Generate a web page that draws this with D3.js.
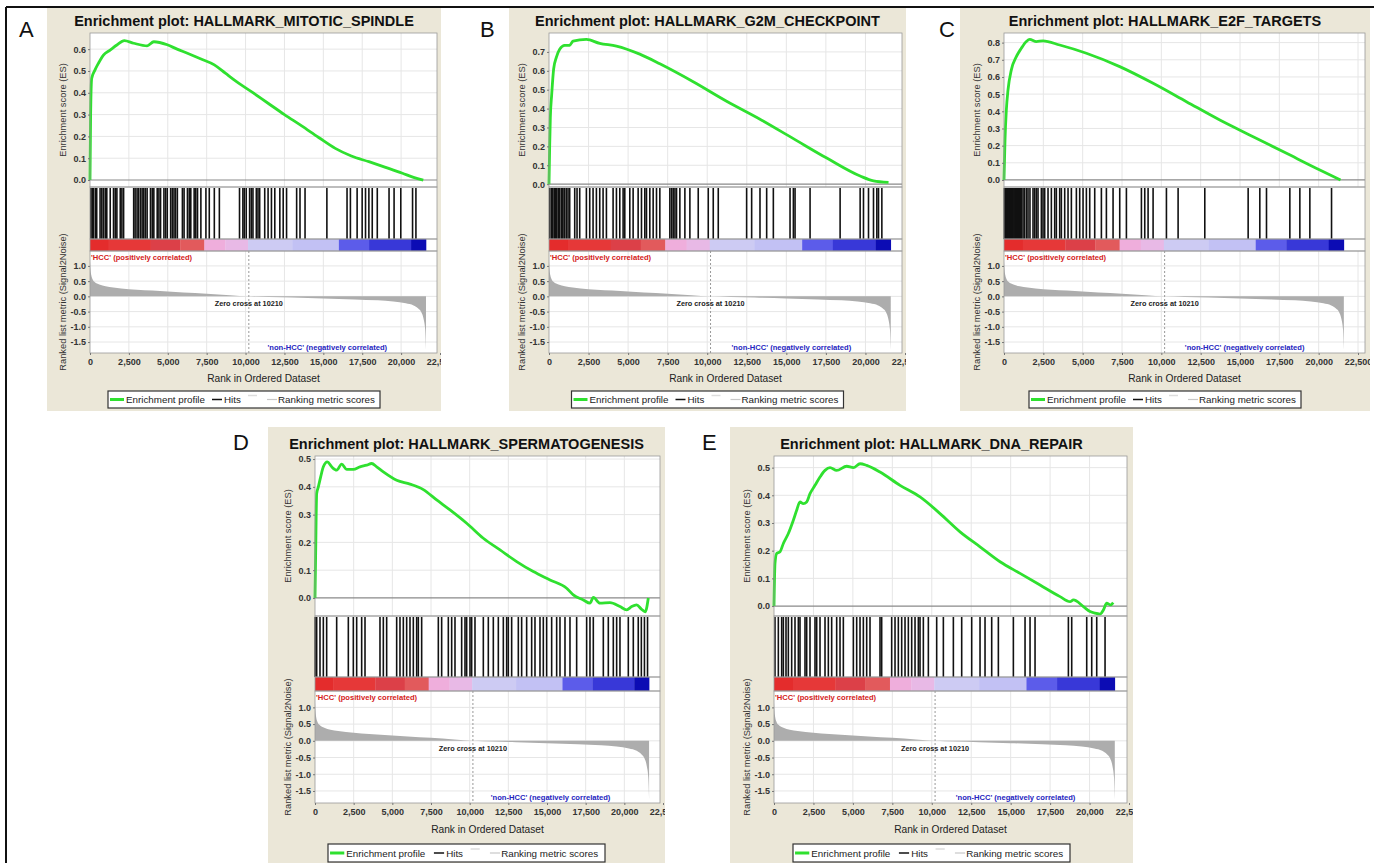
<!DOCTYPE html>
<html lang="en">
<head>
<meta charset="UTF-8">
<title>GSEA enrichment plots</title>
<script src="https://d3js.org/d3.v7.min.js"></script>
<style>
  body { margin: 0; background: #fff; }
  svg { display: block; font-family: "Liberation Sans", Arial, sans-serif; }
</style>
</head>
<body>
<div id="chart"></div>
<script>
// ---- data ----
var panelIds = ["A", "B", "C", "D", "E"];
var titles = [
  "Enrichment plot: HALLMARK_MITOTIC_SPINDLE",
  "Enrichment plot: HALLMARK_G2M_CHECKPOINT",
  "Enrichment plot: HALLMARK_E2F_TARGETS",
  "Enrichment plot: HALLMARK_SPERMATOGENESIS",
  "Enrichment plot: HALLMARK_DNA_REPAIR"
];
var rankTicks = d3.range(0, 22501, 2500);
var rankedTicks = [1.0, 0.5, 0.0, -0.5, -1.0, -1.5];
var esTicksA = [0, 0.1, 0.2, 0.3, 0.4, 0.5, 0.6];
var esTicksB = [0, 0.1, 0.2, 0.3, 0.4, 0.5, 0.6, 0.7];
var esTicksC = [0, 0.1, 0.2, 0.3, 0.4, 0.5, 0.6, 0.7, 0.8];
var esTicksD = [0, 0.1, 0.2, 0.3, 0.4, 0.5];
var esTicksE = [0, 0.1, 0.2, 0.3, 0.4, 0.5];
var zeroCross = 10210;
var lastRank = 21600;

// running enrichment score: [rank, ES]
var esA = [[0,0],[40,0.30],[108,0.466],[324,0.505],[540,0.535],[864,0.573],[1296,0.596],[1728,0.619],[2203,0.639],[2808,0.627],[3672,0.615],[4104,0.634],[4968,0.62],[5600,0.60],[6264,0.581],[7100,0.556],[7992,0.528],[8700,0.49],[9288,0.458],[10400,0.404],[11448,0.352],[12500,0.30],[13608,0.248],[14700,0.195],[15768,0.145],[16800,0.11],[17928,0.084],[19000,0.058],[20088,0.031],[20800,0.012],[21427,0]];
var esB = [[0,0],[42,0.198],[84,0.353],[169,0.473],[295,0.611],[464,0.671],[675,0.714],[992,0.735],[1308,0.735],[1519,0.757],[2363,0.766],[3207,0.745],[4262,0.731],[5739,0.688],[7005,0.637],[9115,0.542],[11225,0.439],[13335,0.344],[15445,0.241],[17555,0.138],[19665,0.043],[20509,0.017],[21459,0.009]];
var esC = [[0,0],[64,0.233],[149,0.408],[254,0.524],[467,0.641],[784,0.718],[1102,0.767],[1420,0.806],[1632,0.819],[2056,0.806],[2480,0.81],[3540,0.786],[5236,0.738],[7356,0.66],[9476,0.563],[11596,0.456],[13716,0.349],[15836,0.252],[17956,0.155],[20076,0.058],[21390,0]];
var esD = [[0,0],[43,0.161],[108,0.376],[216,0.40],[367,0.436],[539,0.472],[797,0.49],[1078,0.472],[1401,0.46],[1724,0.482],[2047,0.463],[2478,0.463],[2909,0.472],[3340,0.478],[3664,0.484],[3987,0.472],[4418,0.454],[5280,0.424],[6142,0.41],[7004,0.39],[7866,0.353],[8728,0.317],[9805,0.269],[10883,0.215],[11960,0.173],[13038,0.131],[14115,0.095],[15193,0.065],[16270,0.035],[16701,0.011],[17348,-0.007],[17779,-0.019],[17994,0.002],[18425,-0.019],[19071,-0.017],[19718,-0.031],[20149,-0.043],[20472,-0.031],[20795,-0.025],[21100,-0.04],[21350,-0.05],[21550,0.0]];
var esE = [[0,0],[63,0.154],[169,0.19],[380,0.196],[592,0.226],[909,0.262],[1226,0.31],[1437,0.346],[1648,0.376],[1859,0.37],[2071,0.376],[2282,0.406],[2599,0.436],[2916,0.466],[3233,0.49],[3550,0.5],[3972,0.49],[4606,0.505],[5029,0.5],[5452,0.514],[5874,0.508],[6719,0.484],[7987,0.436],[9255,0.394],[10523,0.334],[11791,0.268],[13058,0.214],[14326,0.16],[15594,0.118],[16862,0.076],[18130,0.034],[18764,0.016],[18975,0.022],[19609,-0.002],[20031,-0.02],[20348,-0.026],[20665,-0.029],[20876,-0.014],[21087,0.01],[21341,0.004],[21500,0.012]];

// gene set members (rank positions)
var hitsA = [60,150,216,340,432,648,760,864,980,1080,1300,1512,1620,1728,1944,2050,2160,2808,2900,3024,3120,3240,3350,3456,3560,3672,3888,4000,4104,4320,4430,4536,4752,4860,4968,5184,5290,5400,5500,5616,5940,6048,6264,6380,6480,6696,6800,6912,7128,7452,7668,7992,8316,9612,9828,9920,10044,10260,10370,10476,10692,10800,10908,11232,11448,11664,11880,12204,12420,12636,13284,13500,13824,15228,16524,16740,17172,17496,17712,17928,18144,18468,19224,19548,19980,20736,20952];
var hitsB = [42,148,200,253,359,410,464,570,620,675,781,830,886,992,1097,1203,1308,1625,1772,1941,2363,2574,2785,2996,3207,3418,3629,4051,4262,4473,4684,4790,5106,5317,5634,5845,6056,6161,6372,6583,6794,7005,7638,7750,7849,7960,8060,8271,8588,8904,9432,10065,10381,10698,12491,12808,13335,13757,14179,15234,15445,15551,16500,18399,19665,19876,20193,20509,20720,20826,21037];
var hitsC = [20,70,106,160,212,265,318,370,424,480,530,580,636,690,742,800,848,930,996,1050,1102,1208,1300,1420,1526,1650,1844,1950,2056,2162,2374,2480,2586,2798,3010,3222,3328,3540,3646,3858,4070,4282,4600,4812,5024,5236,5448,5766,6190,6508,6932,7356,7780,8734,8946,9158,9476,10324,11066,12762,15518,16260,16684,18168,18804,19440,20818];
var hitsD = [10,108,323,539,754,1401,2155,2478,2694,3017,3233,4202,4418,4633,5280,5495,5711,5926,6142,6357,6573,6681,6896,7974,8189,8620,8836,9051,9482,9698,9805,10021,10129,10344,10883,11206,11529,11853,12176,12391,12499,12715,13146,13361,13684,14008,14223,14546,14762,14977,15301,15624,15839,16163,16486,16917,17563,17779,17994,18641,18964,19287,19503,19718,20257,20580,20900,21100,21300,21500];
var hitsE = [63,275,486,592,761,909,1120,1331,1543,1648,1965,2071,2282,2599,2705,2916,3233,3444,3655,3972,4184,4395,5029,5240,5452,5663,5874,6085,6719,6825,7459,7670,7881,8093,8304,8515,8727,8938,9149,9255,9466,9783,10311,10734,11368,11896,12530,13058,13375,13798,14220,15171,15911,16228,16545,18658,18869,19820,20137,20454,20982];

// ranked list metric (Signal2Noise), same dataset in every panel
var rankedMetric = [[0,1.15],[30,0.9],[80,0.7],[150,0.58],[300,0.47],[600,0.39],[1000,0.33],[1500,0.29],[2000,0.26],[3000,0.22],[4000,0.19],[5000,0.16],[6000,0.13],[7500,0.09],[9000,0.04],[10210,0],[11500,-0.02],[13000,-0.04],[15000,-0.07],[17000,-0.1],[18500,-0.13],[19500,-0.17],[20300,-0.23],[20800,-0.3],[21100,-0.4],[21300,-0.52],[21450,-0.75],[21550,-1.1],[21600,-1.75]];

// heat-map bar under the hits: [start rank, colour]
var barStarts = [0, 1200, 3900, 5800, 7350, 8700, 10160, 13000, 16000, 17940, 20640];
var barColors = ["#e42c2c", "#e63838", "#dc4048", "#e25a5c", "#efaedc", "#e8b9e6", "#cdcbf3", "#c2c1f4", "#5c5cea", "#3838d8", "#0c0cb4"];

var esData = [esA, esB, esC, esD, esE];
var hitsData = [hitsA, hitsB, hitsC, hitsD, hitsE];
var esTicks = [esTicksA, esTicksB, esTicksC, esTicksD, esTicksE];
var esDomains = [[-0.032, 0.674], [-0.015, 0.80], [-0.041, 0.856], [-0.065, 0.511], [-0.036, 0.542]];
var rankedDomain = [-1.86, 1.49];

// ---- layout ----
var rows = [
  { top: 8, bot: 411, titleY: 26, esTop: 33, esBot: 187, hitsBot: 239, barBot: 251, rankBot: 353, xTitleY: 382, legTop: 391, legH: 17, legW: 272 },
  { top: 427, bot: 870, titleY: 449, esTop: 456, esBot: 616, hitsBot: 677, barBot: 691, rankBot: 803, xTitleY: 833, legTop: 844, legH: 18, legW: 277 }
];
var boxes = [
  { row: 0, bx0: 47,  bx1: 441,  x0: 90,   w: 350, pw: 347, lx: 19,  ly: 37 },
  { row: 0, bx0: 509, bx1: 906,  x0: 549,  w: 356, pw: 353, lx: 480, ly: 37 },
  { row: 0, bx0: 960, bx1: 1370, x0: 1004, w: 354, pw: 361, lx: 939, ly: 37 },
  { row: 1, bx0: 268, bx1: 665,  x0: 315,  w: 348, pw: 345, lx: 233, ly: 450 },
  { row: 1, bx0: 730, bx1: 1133, x0: 774,  w: 355, pw: 353, lx: 702, ly: 450 }
];

var width = 1374, height = 863;
var svg = d3.select("#chart").append("svg")
  .attr("width", width)
  .attr("height", height);

svg.append("rect").attr("width", width).attr("height", height).attr("fill", "#fff");

var fmt1 = function(d) { return d.toFixed(1); };

boxes.forEach(function(b, i) {
  var r = rows[b.row];
  var x = d3.scaleLinear().domain([0, 22500]).range([b.x0, b.x0 + b.w]);
  var xr = b.x0 + b.pw;
  var yEs = d3.scaleLinear().domain(esDomains[i]).range([r.esBot, r.esTop]);
  var yRk = d3.scaleLinear().domain(rankedDomain).range([r.rankBot, r.barBot]);

  svg.append("clipPath").attr("id", "clip" + i)
    .append("rect")
    .attr("x", b.bx0).attr("y", r.top)
    .attr("width", b.bx1 - b.bx0).attr("height", r.bot - r.top);

  var g = svg.append("g").attr("clip-path", "url(#clip" + i + ")");

  // beige panel
  g.append("rect")
    .attr("x", b.bx0).attr("y", r.top)
    .attr("width", b.bx1 - b.bx0).attr("height", r.bot - r.top)
    .attr("fill", "#ebe7d8");

  // title
  g.append("text")
    .attr("x", (b.bx0 + b.bx1) / 2).attr("y", r.titleY)
    .attr("text-anchor", "middle")
    .attr("font-size", 14.5).attr("font-weight", "bold").attr("fill", "#111")
    .text(titles[i]);

  // white plot areas
  [[r.esTop, r.esBot], [r.esBot, r.hitsBot], [r.hitsBot, r.barBot], [r.barBot, r.rankBot]].forEach(function(s) {
    g.append("rect")
      .attr("x", b.x0).attr("y", s[0])
      .attr("width", xr - b.x0).attr("height", s[1] - s[0])
      .attr("fill", "#fff");
  });

  // grid lines
  var grid = g.append("g").attr("stroke", "#e6e6e6").attr("stroke-width", 1);
  rankTicks.forEach(function(t) {
    if (t === 0 || x(t) >= xr) return;
    grid.append("line").attr("x1", x(t)).attr("x2", x(t)).attr("y1", r.esTop).attr("y2", r.esBot);
    grid.append("line").attr("x1", x(t)).attr("x2", x(t)).attr("y1", r.barBot).attr("y2", r.rankBot);
  });
  esTicks[i].forEach(function(t) {
    if (t === 0) return;
    grid.append("line").attr("x1", b.x0).attr("x2", xr).attr("y1", yEs(t)).attr("y2", yEs(t));
  });
  rankedTicks.forEach(function(t) {
    grid.append("line").attr("x1", b.x0).attr("x2", xr).attr("y1", yRk(t)).attr("y2", yRk(t));
  });

  // ES zero line
  g.append("line")
    .attr("x1", b.x0).attr("x2", xr)
    .attr("y1", yEs(0)).attr("y2", yEs(0))
    .attr("stroke", "#8a8a8a").attr("stroke-width", 1.2);

  // enrichment profile
  g.append("path")
    .datum(esData[i])
    .attr("d", d3.line()
      .x(function(d) { return x(d[0]); })
      .y(function(d) { return yEs(d[1]); })
      .curve(d3.curveMonotoneX))
    .attr("fill", "none")
    .attr("stroke", "#2fe02f")
    .attr("stroke-width", 2.8)
    .attr("stroke-linejoin", "round");

  // hits
  g.append("g").selectAll("line")
    .data(hitsData[i])
    .enter().append("line")
    .attr("x1", function(d) { return x(d); })
    .attr("x2", function(d) { return x(d); })
    .attr("y1", r.esBot + 1).attr("y2", r.hitsBot)
    .attr("stroke", "#111").attr("stroke-width", 1.6);

  // colour bar
  g.append("g").selectAll("rect")
    .data(barStarts)
    .enter().append("rect")
    .attr("x", function(d) { return x(d); })
    .attr("y", r.hitsBot)
    .attr("width", function(d, k) { return x(k < barStarts.length - 1 ? barStarts[k + 1] : lastRank) - x(d) + 0.3; })
    .attr("height", r.barBot - r.hitsBot)
    .attr("fill", function(d, k) { return barColors[k]; });

  // ranked list metric
  g.append("path")
    .datum(rankedMetric)
    .attr("d", d3.area()
      .x(function(d) { return x(d[0]); })
      .y0(yRk(0))
      .y1(function(d) { return yRk(d[1]); })
      .curve(d3.curveMonotoneX))
    .attr("fill", "#adadad");

  g.append("line")
    .attr("x1", x(zeroCross)).attr("x2", x(zeroCross))
    .attr("y1", r.barBot).attr("y2", r.rankBot)
    .attr("stroke", "#999").attr("stroke-dasharray", "2,2");

  g.append("text")
    .attr("x", x(zeroCross)).attr("y", yRk(0) + 10)
    .attr("text-anchor", "middle")
    .attr("font-size", 7.3).attr("font-weight", "bold").attr("fill", "#222")
    .text("Zero cross at " + zeroCross);

  g.append("text")
    .attr("x", b.x0 + 1).attr("y", r.barBot + 9)
    .attr("font-size", 7.6).attr("font-weight", "bold").attr("fill", "#d42020")
    .text("'HCC' (positively correlated)");

  g.append("text")
    .attr("x", x(19100)).attr("y", r.rankBot - 3)
    .attr("text-anchor", "end")
    .attr("font-size", 7.6).attr("font-weight", "bold").attr("fill", "#2424c0")
    .text("'non-HCC' (negatively correlated)");

  // plot borders
  [[r.esTop, r.esBot], [r.esBot, r.hitsBot], [r.hitsBot, r.barBot], [r.barBot, r.rankBot]].forEach(function(s) {
    g.append("rect")
      .attr("x", b.x0).attr("y", s[0])
      .attr("width", xr - b.x0).attr("height", s[1] - s[0])
      .attr("fill", "none").attr("stroke", "#9a9a9a").attr("stroke-width", 0.8);
  });

  // axes
  var esAxis = g.append("g")
    .attr("transform", "translate(" + b.x0 + ",0)")
    .call(d3.axisLeft(yEs).tickValues(esTicks[i]).tickFormat(fmt1).tickSize(2).tickPadding(2));
  var rkAxis = g.append("g")
    .attr("transform", "translate(" + b.x0 + ",0)")
    .call(d3.axisLeft(yRk).tickValues(rankedTicks).tickFormat(fmt1).tickSize(2).tickPadding(2));
  var xAxis = g.append("g")
    .attr("transform", "translate(0," + r.rankBot + ")")
    .call(d3.axisBottom(x).tickValues(rankTicks).tickFormat(d3.format(",")).tickSize(2).tickPadding(4));
  [esAxis, rkAxis, xAxis].forEach(function(a) {
    a.select(".domain").remove();
    a.selectAll("line").attr("stroke", "#777");
    a.selectAll("text")
      .attr("font-family", "'Liberation Sans', Arial, sans-serif")
      .attr("font-size", 9).attr("font-weight", "bold").attr("fill", "#333");
  });

  // axis titles
  g.append("text")
    .attr("transform", "translate(" + (b.x0 - 24) + "," + ((r.esTop + r.esBot) / 2) + ") rotate(-90)")
    .attr("text-anchor", "middle")
    .attr("font-size", 9.3).attr("fill", "#333")
    .text("Enrichment score (ES)");
  g.append("text")
    .attr("transform", "translate(" + (b.x0 - 24) + "," + ((r.barBot + r.rankBot) / 2) + ") rotate(-90)")
    .attr("text-anchor", "middle")
    .attr("font-size", 9.3).attr("fill", "#333")
    .text("Ranked list metric (Signal2Noise)");
  g.append("text")
    .attr("x", (b.x0 + xr) / 2).attr("y", r.xTitleY)
    .attr("text-anchor", "middle")
    .attr("font-size", 10.2).attr("fill", "#222")
    .text("Rank in Ordered Dataset");

  // legend
  var s = r.legW / 272;
  var lx = (b.bx0 + b.bx1) / 2 - r.legW / 2;
  var ly = r.legTop;
  var my = ly + r.legH / 2;
  var leg = g.append("g");
  leg.append("rect")
    .attr("x", lx).attr("y", ly).attr("width", r.legW).attr("height", r.legH)
    .attr("fill", "#fff").attr("stroke", "#333").attr("stroke-width", 1.2);
  leg.append("line").attr("x1", lx + 2 * s).attr("x2", lx + 16 * s).attr("y1", my).attr("y2", my)
    .attr("stroke", "#2fe02f").attr("stroke-width", 3);
  leg.append("text").attr("x", lx + 18 * s).attr("y", my + 3.5).attr("font-size", 9.8).attr("fill", "#222")
    .text("Enrichment profile");
  leg.append("line").attr("x1", lx + 104 * s).attr("x2", lx + 114 * s).attr("y1", my).attr("y2", my)
    .attr("stroke", "#111").attr("stroke-width", 1.5);
  leg.append("text").attr("x", lx + 116 * s).attr("y", my + 3.5).attr("font-size", 9.8).attr("fill", "#222")
    .text("Hits");
  leg.append("line").attr("x1", lx + 140 * s).attr("x2", lx + 149 * s).attr("y1", my - 4).attr("y2", my - 4)
    .attr("stroke", "#ddd").attr("stroke-width", 1.5);
  leg.append("line").attr("x1", lx + 159 * s).attr("x2", lx + 169 * s).attr("y1", my).attr("y2", my)
    .attr("stroke", "#c8c8c8").attr("stroke-width", 1.2);
  leg.append("text").attr("x", lx + 170 * s).attr("y", my + 3.5).attr("font-size", 9.8).attr("fill", "#222")
    .text("Ranking metric scores");

  // panel letter
  svg.append("text")
    .attr("x", b.lx).attr("y", b.ly)
    .attr("font-size", 22).attr("fill", "#111")
    .text(panelIds[i]);
});

// outer frame (left and top edges)
svg.append("line").attr("x1", 6).attr("x2", 6).attr("y1", 7).attr("y2", height)
  .attr("stroke", "#111").attr("stroke-width", 2);
svg.append("line").attr("x1", 6).attr("x2", width).attr("y1", 7).attr("y2", 7)
  .attr("stroke", "#111").attr("stroke-width", 2);
</script>
</body>
</html>
